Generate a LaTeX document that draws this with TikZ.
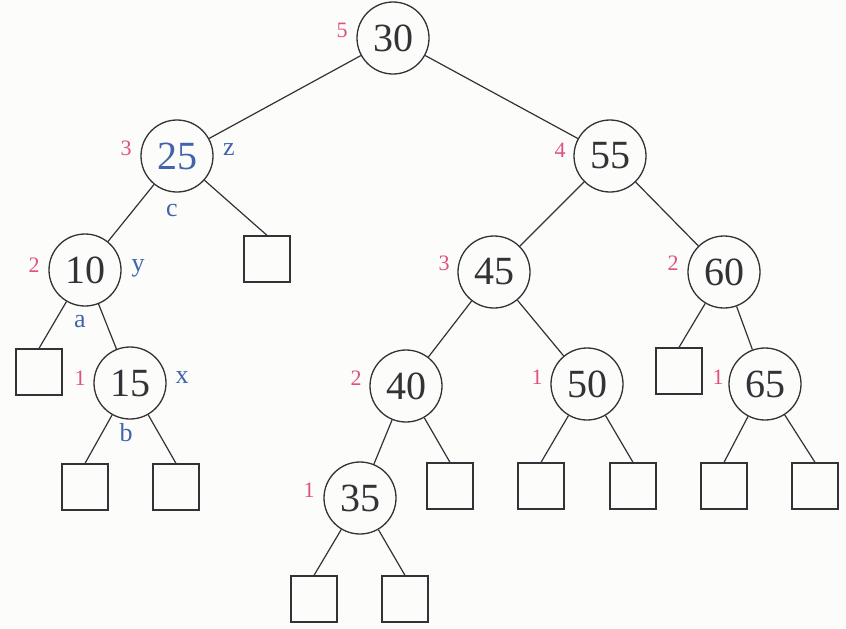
\documentclass[tikz,border=0pt]{standalone}
\usepackage{fontspec}
\setmainfont{Liberation Serif}
\definecolor{inkc}{RGB}{50,50,55}
\definecolor{pinkc}{RGB}{225,80,130}
\definecolor{bluec}{RGB}{65,100,170}
\definecolor{paperc}{RGB}{252,252,250}
\begin{document}
\begin{tikzpicture}[x=0.5pt,y=-0.5pt,
  circ/.style={circle,draw=inkc,line width=0.65pt,minimum size=36pt,inner sep=0pt,
    font=\fontsize{20}{22}\selectfont,text=inkc},
  leaf/.style={rectangle,draw=inkc,line width=0.65pt,minimum size=23pt,inner sep=0pt},
  hgt/.style={text=pinkc,font=\fontsize{11}{12}\selectfont,inner sep=0pt},
  lbl/.style={text=bluec,font=\fontsize{13}{14}\selectfont,inner sep=0pt},
  edge/.style={draw=inkc,line width=0.6pt}]
\fill[paperc] (0,0) rectangle (846,628);
\useasboundingbox (0,0) rectangle (846,628);
% internal nodes
\node[circ] (n30) at (393,38) {30};
\node[circ,text=bluec] (n25) at (177,156) {25};
\node[circ] (n55) at (610,156) {55};
\node[circ] (n10) at (85,270) {10};
\node[circ] (n45) at (494,272) {45};
\node[circ] (n60) at (724,272) {60};
\node[circ] (n15) at (130,383) {15};
\node[circ] (n40) at (406,386) {40};
\node[circ] (n50) at (587,384) {50};
\node[circ] (n65) at (765,384) {65};
\node[circ] (n35) at (360,498) {35};
% leaves
\node[leaf] (l1) at (39,372) {};
\node[leaf] (l2) at (267,259) {};
\node[leaf] (l3) at (85,487) {};
\node[leaf] (l4) at (176,487) {};
\node[leaf] (l5) at (679,371) {};
\node[leaf] (l6) at (450,486) {};
\node[leaf] (l7) at (541,486) {};
\node[leaf] (l8) at (633,486) {};
\node[leaf] (l9) at (724,486) {};
\node[leaf] (l10) at (815,486) {};
\node[leaf] (l11) at (314,599) {};
\node[leaf] (l12) at (405,599) {};
% edges
\draw[edge] (n30) -- (n25);
\draw[edge] (n30) -- (n55);
\draw[edge] (n25) -- (n10);
\draw[edge] (n25) -- (l2.north);
\draw[edge] (n10) -- (l1.north);
\draw[edge] (n10) -- (n15);
\draw[edge] (n15) -- (l3.north);
\draw[edge] (n15) -- (l4.north);
\draw[edge] (n55) -- (n45);
\draw[edge] (n55) -- (n60);
\draw[edge] (n45) -- (n40);
\draw[edge] (n45) -- (n50);
\draw[edge] (n40) -- (n35);
\draw[edge] (n40) -- (l6.north);
\draw[edge] (n35) -- (l11.north);
\draw[edge] (n35) -- (l12.north);
\draw[edge] (n50) -- (l7.north);
\draw[edge] (n50) -- (l8.north);
\draw[edge] (n60) -- (l5.north);
\draw[edge] (n60) -- (n65);
\draw[edge] (n65) -- (l9.north);
\draw[edge] (n65) -- (l10.north);
% heights
\node[hgt] (h30) at (342,30) {5};
\node[hgt] (h25) at (126,148) {3};
\node[hgt] (h55) at (560,150) {4};
\node[hgt] (h10) at (34,265) {2};
\node[hgt] (h45) at (444,263) {3};
\node[hgt] (h60) at (673,263) {2};
\node[hgt] (h15) at (80,378) {1};
\node[hgt] (h40) at (356,378) {2};
\node[hgt] (h50) at (537,377) {1};
\node[hgt] (h65) at (718,377) {1};
\node[hgt] (h35) at (309,490) {1};
% trinode labels
\node[lbl] (tz) at (229,150) {z};
\node[lbl] (tc) at (172,210) {c};
\node[lbl] (ty) at (138,268) {y};
\node[lbl] (ta) at (80,322) {a};
\node[lbl] (tx) at (182,378) {x};
\node[lbl] (tb) at (126,433) {b};
\end{tikzpicture}
\end{document}
